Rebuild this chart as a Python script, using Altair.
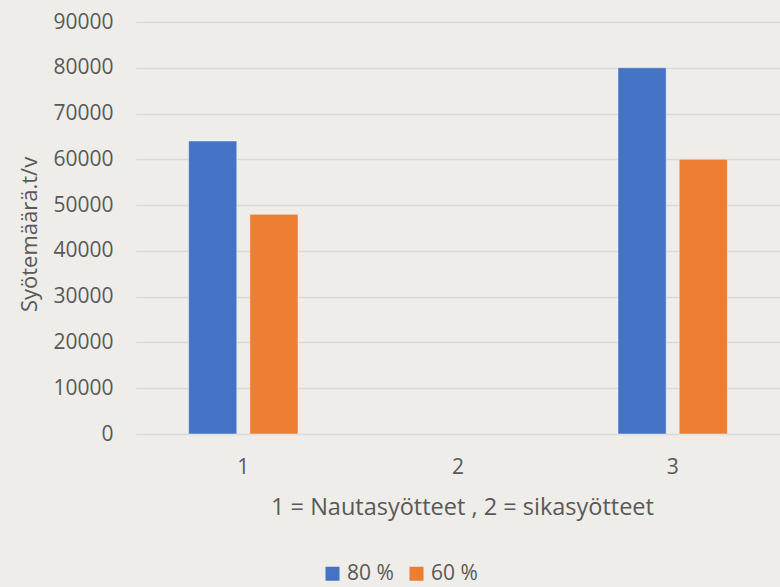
import altair as alt
import pandas as pd

# Feed groups on the x axis and the two utilisation rates
categories = ["1", "2", "3"]
series = ["80 %", "60 %"]
values_80 = [64000, None, 80000]
values_60 = [48000, None, 60000]
colors = ["#4472C4", "#ED7D31"]

rows = []
for cat, v80, v60 in zip(categories, values_80, values_60):
    if v80 is not None:
        rows.append({"group": cat, "series": series[0], "value": v80})
    if v60 is not None:
        rows.append({"group": cat, "series": series[1], "value": v60})
df = pd.DataFrame(rows)

FONT = "Open Sans"
TEXT = "#595959"
BG = "#EEEDE9"

bars = alt.Chart(df).mark_bar(
    stroke="#ffffff", strokeOpacity=0.45, strokeWidth=1
).encode(
    x=alt.X(
        "group:N",
        scale=alt.Scale(domain=categories, paddingInner=0, paddingOuter=0),
        axis=alt.Axis(
            title="1 = Nautasyötteet , 2 = sikasyötteet",
            labelAngle=0,
            ticks=False,
            domain=False,
            labelPadding=22,
            labelFontSize=21,
            titleFontSize=23.5,
            titleFontWeight="normal",
            titleBaseline="alphabetic",
            titleY=80,
            titleX=326,
        ),
    ),
    xOffset=alt.XOffset(
        "series:N",
        scale=alt.Scale(domain=series, paddingInner=0.213, paddingOuter=0.86),
    ),
    y=alt.Y(
        "value:Q",
        scale=alt.Scale(domain=[0, 90000], nice=False),
        axis=alt.Axis(
            title="Syötemäärä.t/v",
            values=list(range(0, 90001, 10000)),
            format="d",
            ticks=False,
            domain=False,
            grid=True,
            gridColor="#D9D9D9",
            gridWidth=1.5,
            labelPadding=23,
            labelFontSize=21,
            titleFontSize=22,
            titleFontWeight="normal",
            titleBaseline="alphabetic",
            titleX=-100,
            titleY=212,
        ),
    ),
    color=alt.Color(
        "series:N",
        scale=alt.Scale(domain=series, range=colors),
        legend=alt.Legend(
            title=None,
            orient="none",
            direction="horizontal",
            legendX=186,
            legendY=541,
            symbolType="square",
            symbolSize=196,
            symbolStrokeWidth=0,
            labelFontSize=21,
            labelOffset=4,
            columnPadding=12,
        ),
    ),
)

chart = bars.properties(
    width=644,
    height=412,
    background=BG,
    padding={"left": 136, "top": 22, "right": 0, "bottom": 153},
    autosize=alt.AutoSizeParams(type="none"),
).configure_view(
    stroke=None
).configure_axis(
    labelFont=FONT,
    titleFont=FONT,
    labelColor=TEXT,
    titleColor=TEXT,
).configure_legend(
    labelFont=FONT,
    labelColor=TEXT,
)

chart.save("out.html", embed_options={"renderer": "svg", "actions": False})
